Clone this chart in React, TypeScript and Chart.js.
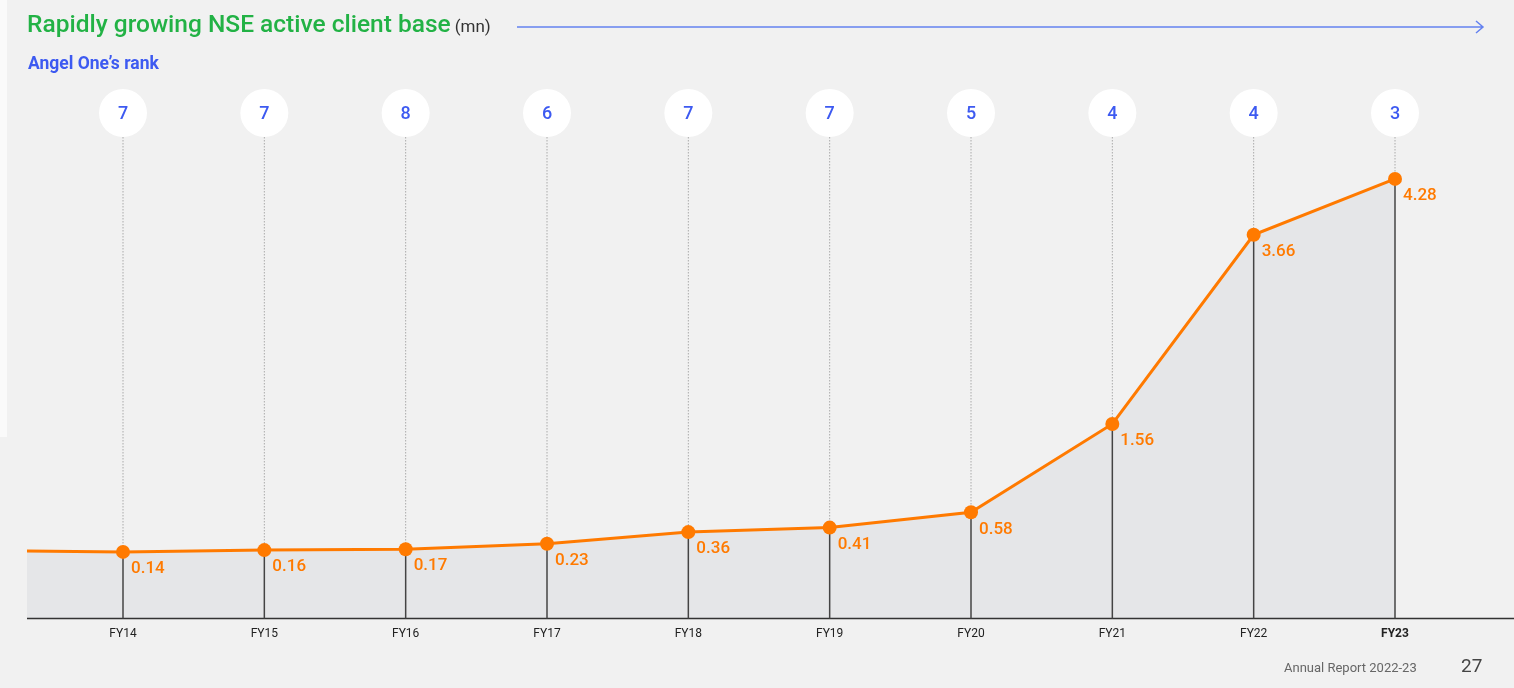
import { useEffect, useRef } from "react"
import { Chart, registerables } from "chart.js"

Chart.register(...registerables)

// NSE active clients (mn) and Angel One's rank
const years = ["FY14", "FY15", "FY16", "FY17", "FY18", "FY19", "FY20", "FY21", "FY22", "FY23"]
const clients = [0.14, 0.16, 0.17, 0.23, 0.36, 0.41, 0.58, 1.56, 3.66, 4.28]
const ranks = [7, 7, 8, 6, 7, 7, 5, 4, 4, 3]

const ORANGE = "#ff7a00"
const BLUE = "#3d5af1"
const AREA = "#e5e6e8"
const FONT = "Roboto, 'Noto Sans', sans-serif"

const LEAD_LEFT = 27
const RANK_Y = 113
const RANK_R = 24

const overlay = {
  id: "overlay",
  beforeDatasetsDraw(chart: any) {
    const { ctx, chartArea } = chart
    const pts = chart.getDatasetMeta(0).data
    const bottom = chartArea.bottom
    const first = pts[0]
    ctx.save()

    // area + line running in from the left edge
    ctx.fillStyle = AREA
    ctx.fillRect(LEAD_LEFT, first.y, first.x - LEAD_LEFT, bottom - first.y)
    ctx.strokeStyle = ORANGE
    ctx.lineWidth = 3
    ctx.beginPath()
    ctx.moveTo(LEAD_LEFT, first.y - 1)
    ctx.lineTo(first.x, first.y)
    ctx.stroke()

    // base line
    ctx.strokeStyle = "#333"
    ctx.lineWidth = 1.5
    ctx.beginPath()
    ctx.moveTo(LEAD_LEFT, bottom)
    ctx.lineTo(chart.width, bottom)
    ctx.stroke()

    pts.forEach((pt: any, i: number) => {
      ctx.strokeStyle = "#aaa"
      ctx.lineWidth = 1
      ctx.setLineDash([1.5, 1.5])
      ctx.beginPath()
      ctx.moveTo(pt.x, RANK_Y + RANK_R)
      ctx.lineTo(pt.x, pt.y)
      ctx.stroke()

      ctx.setLineDash([])
      ctx.strokeStyle = "#444"
      ctx.lineWidth = 1.5
      ctx.beginPath()
      ctx.moveTo(pt.x, pt.y)
      ctx.lineTo(pt.x, bottom)
      ctx.stroke()

      ctx.fillStyle = "#fff"
      ctx.beginPath()
      ctx.arc(pt.x, RANK_Y, RANK_R, 0, Math.PI * 2)
      ctx.fill()

      ctx.fillStyle = BLUE
      ctx.font = `500 18px ${FONT}`
      ctx.textAlign = "center"
      ctx.textBaseline = "middle"
      ctx.fillText(String(ranks[i]), pt.x, RANK_Y + 1)
    })

    // arrow next to the title
    ctx.strokeStyle = "#6482f0"
    ctx.lineWidth = 1.5
    ctx.beginPath()
    ctx.moveTo(517, 27)
    ctx.lineTo(1483, 27)
    ctx.moveTo(1476, 21)
    ctx.lineTo(1483, 27)
    ctx.lineTo(1476, 33)
    ctx.stroke()
    ctx.restore()
  },
  afterDatasetsDraw(chart: any) {
    const { ctx } = chart
    const pts = chart.getDatasetMeta(0).data
    ctx.save()
    ctx.fillStyle = ORANGE
    ctx.font = `500 17px ${FONT}`
    ctx.textAlign = "left"
    ctx.textBaseline = "middle"
    pts.forEach((pt: any, i: number) => {
      ctx.fillText(clients[i].toFixed(2), pt.x + 8, pt.y + 17)
    })
    ctx.restore()
  },
}

function ClientBaseChart() {
  const canvasRef = useRef<HTMLCanvasElement>(null)
  const chartRef = useRef<Chart | null>(null)

  useEffect(() => {
    if (!canvasRef.current) return
    if (chartRef.current) chartRef.current.destroy()

    chartRef.current = new Chart(canvasRef.current, {
      type: "line",
      data: {
        labels: years,
        datasets: [
          {
            data: clients,
            borderColor: ORANGE,
            borderWidth: 3,
            backgroundColor: AREA,
            fill: "start",
            tension: 0,
            pointRadius: 7,
            pointBackgroundColor: ORANGE,
            pointBorderWidth: 0,
            clip: false,
          },
        ],
      },
      options: {
        responsive: true,
        maintainAspectRatio: false,
        animation: false,
        layout: { padding: { left: 123, right: 119, top: 87, bottom: 39 } },
        scales: {
          x: {
            offset: false,
            grid: { display: false, drawTicks: false },
            border: { display: false },
            ticks: {
              padding: 8,
              color: "#222",
              font: (c: any) => ({
                family: FONT,
                size: 12,
                weight: c.index === years.length - 1 ? "bold" : "normal",
              }),
            },
          },
          y: { display: false, min: -0.6, max: 5.3 },
        },
        plugins: {
          legend: { display: false },
          tooltip: { enabled: false },
          filler: { drawTime: "beforeDatasetsDraw" },
        },
      },
      plugins: [overlay],
    })

    return () => {
      chartRef.current?.destroy()
      chartRef.current = null
    }
  }, [])

  return <canvas ref={canvasRef} />
}

export default function App() {
  return (
    <div
      style={{
        position: "fixed",
        left: 0,
        top: 0,
        width: 1514,
        height: 688,
        background: "#f1f1f1",
        fontFamily: FONT,
        overflow: "hidden",
      }}
    >
      <div style={{ position: "absolute", left: 0, top: 0, width: 7, height: 437, background: "#fafafa" }} />
      <div style={{ position: "absolute", left: 0, top: 0, width: 1514, height: 688 }}>
        <ClientBaseChart />
      </div>
      <div style={{ position: "absolute", left: 27, top: 9, whiteSpace: "nowrap" }}>
        <span style={{ fontSize: 24.5, fontWeight: 500, color: "#22b245" }}>
          Rapidly growing NSE active client base
        </span>
        <span style={{ fontSize: 17, color: "#333", marginLeft: 4 }}>(mn)</span>
      </div>
      <div style={{ position: "absolute", left: 28, top: 53, fontSize: 17.5, fontWeight: 700, color: BLUE }}>
        Angel One’s rank
      </div>
      <div style={{ position: "absolute", left: 1284, top: 660, fontSize: 13, color: "#666" }}>
        Annual Report 2022-23
      </div>
      <div style={{ position: "absolute", left: 1461, top: 654, fontSize: 19, color: "#444" }}>27</div>
    </div>
  )
}
